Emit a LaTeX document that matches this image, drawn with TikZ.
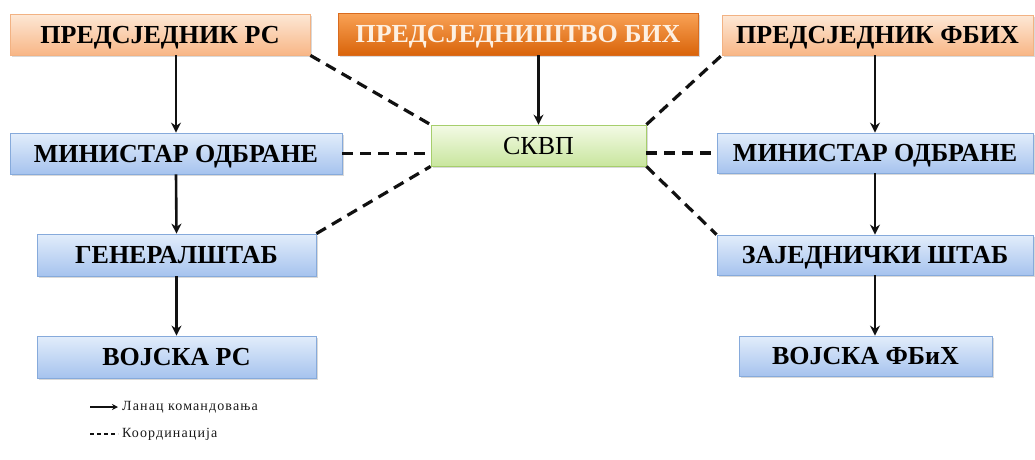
\documentclass[tikz,border=0pt]{standalone}
\usepackage{fontspec}
\setmainfont{Liberation Serif}
\newfontfamily\boxfont{Liberation Serif}
\usetikzlibrary{shadows,arrows.meta}
\definecolor{peachT}{HTML}{FDE8D6}
\definecolor{peachB}{HTML}{F8B686}
\definecolor{peachD}{HTML}{F2B283}
\definecolor{orT}{HTML}{F9A256}
\definecolor{orB}{HTML}{D9640A}
\definecolor{orD}{HTML}{D96B1E}
\definecolor{orText}{HTML}{FDF0E2}
\definecolor{blT}{HTML}{E2EDFB}
\definecolor{blB}{HTML}{A6C3EE}
\definecolor{blD}{HTML}{86AADB}
\definecolor{grT}{HTML}{F3FAE6}
\definecolor{grB}{HTML}{C9E69E}
\definecolor{grD}{HTML}{A6CE6C}
\definecolor{lineC}{HTML}{111111}
\tikzset{
  box/.style={rectangle, inner sep=0pt, line width=0.8pt,
    text height=17pt, text depth=0pt,
    font=\boxfont\bfseries\fontsize{26}{29}\selectfont,
    drop shadow={opacity=0.3, shadow xshift=1.5pt, shadow yshift=-2pt}},
  peach/.style={box, draw=peachD, top color=peachT, bottom color=peachB},
  orng/.style={box, draw=orD, top color=orT, bottom color=orB, text=orText},
  blue/.style={box, draw=blD, top color=blT, bottom color=blB},
  green/.style={box, draw=grD, top color=grT, bottom color=grB,
    font=\boxfont\fontsize{26}{29}\selectfont},
  cmd/.style={draw=lineC, line width=2.6pt, -{Stealth[length=10pt,width=10pt]}},
  coord/.style={draw=lineC, line width=3.2pt, dash pattern=on 11pt off 7pt},
  legtext/.style={anchor=west, inner sep=0pt, font=\boxfont\fontsize{14}{16}\selectfont\addfontfeatures{LetterSpace=8}, text=black!90}
}
\begin{document}
\begin{tikzpicture}[x=1pt,y=-1pt]
\useasboundingbox (0,0) rectangle (1035,459);
% top row
\node[peach, minimum width=300pt, minimum height=41pt] (prs) at (160,34.5) {ПРЕДСЈЕДНИК РС};
\node[orng, minimum width=360pt, minimum height=42pt] (pbih) at (518,34) {ПРЕДСЈЕДНИШТВО БИХ};
\node[peach, minimum width=311pt, minimum height=40pt] (pfbih) at (877.5,35) {ПРЕДСЈЕДНИК ФБИХ};
% middle row
\node[blue, minimum width=332pt, minimum height=41pt] (mol) at (176,153.5) {МИНИСТАР ОДБРАНЕ};
\node[green, minimum width=215pt, minimum height=41pt] (skvp) at (538.5,145.5) {СКВП};
\node[blue, minimum width=316pt, minimum height=40pt] (mor) at (875,153) {МИНИСТАР ОДБРАНЕ};
% third row
\node[blue, minimum width=279pt, minimum height=42pt] (gs) at (176.5,255) {ГЕНЕРАЛШТАБ};
\node[blue, minimum width=316pt, minimum height=40pt] (zs) at (875,255) {ЗАЈЕДНИЧКИ ШТАБ};
% bottom row
\node[blue, minimum width=279pt, minimum height=42pt] (vrs) at (176.5,357) {ВОЈСКА РС};
\node[blue, minimum width=253pt, minimum height=40pt] (vf) at (865.5,356) {ВОЈСКА ФБиХ};
% chain of command
\draw[cmd] (prs.south -| mol.north) -- (mol.north);
\draw[cmd] (mol.south) -- (gs.north);
\draw[cmd] (gs.south) -- (vrs.north);
\draw[cmd] (pbih.south -| skvp.north) -- (skvp.north);
\draw[cmd] (pfbih.south -| mor.north) -- (mor.north);
\draw[cmd] (mor.south) -- (zs.north);
\draw[cmd] (zs.south) -- (zs.south |- vf.north);
% coordination
\draw[coord] (prs.south east) -- (skvp.north west);
\draw[coord] (mol.east) -- (skvp.west |- mol.east);
\draw[coord] (gs.north east) -- (skvp.south west);
\draw[coord] (skvp.north east) -- (pfbih.south west);
\draw[coord] (skvp.east |- mor.west) -- (mor.west);
\draw[coord] (skvp.south east) -- (zs.north west);
% legend
\coordinate (la1) at (90,407);
\coordinate (la2) at (118,407);
\coordinate (lc1) at (90,434);
\coordinate (lc2) at (118,434);
\draw[draw=lineC, line width=1.6pt, -{Stealth[length=6pt,width=6pt]}] (la1) -- (la2);
\draw[draw=lineC, line width=1.2pt, dash pattern=on 4pt off 3pt] (lc1) -- (lc2);
\node[legtext] (lt1) at (122,407) {Ланац командовања};
\node[legtext] (lt2) at (122,434) {Координација};
\end{tikzpicture}
\end{document}
